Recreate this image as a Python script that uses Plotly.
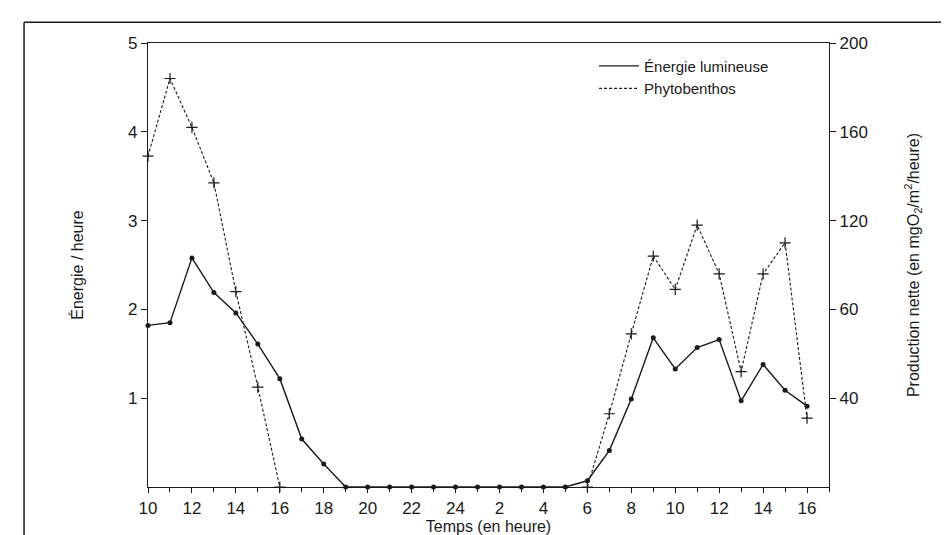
import plotly.graph_objects as go

# Hours of the day (from 10 h on day 1 to 16 h on day 2)
hours = [10, 11, 12, 13, 14, 15, 16, 17, 18, 19, 20, 21, 22, 23, 24,
         1, 2, 3, 4, 5, 6, 7, 8, 9, 10, 11, 12, 13, 14, 15, 16]

# Énergie lumineuse (énergie / heure, left axis)
energie = [1.82, 1.85, 2.58, 2.19, 1.96, 1.61, 1.22, 0.54, 0.26, 0, 0, 0, 0, 0, 0,
           0, 0, 0, 0, 0, 0.07, 0.41, 0.99, 1.68, 1.33, 1.57, 1.66, 0.97, 1.38, 1.09, 0.91]

# Phytobenthos (production nette, right axis)
phyto = [149, 184, 162, 137, 88, 45, 0, None, None, None, None, None, None, None, None,
         None, None, None, None, None, 0, 33, 69, 104, 89, 118, 96, 52, 96, 110, 31]

left_ticks = [1, 2, 3, 4, 5]
right_tickvals = [40, 80, 120, 160, 200]
right_ticktext = ["40", "60", "120", "160", "200"]

idx = list(range(len(hours)))
x_major = [i for i in idx if i % 2 == 0]
x_labels = [str(hours[i]) for i in x_major]

FONT = "Liberation Sans Narrow, Liberation Sans, Arial, sans-serif"
INK = "#1a1a1a"

fig = go.Figure()

fig.add_trace(go.Scatter(
    x=idx, y=energie, mode="lines+markers", name="Énergie lumineuse",
    line=dict(color=INK, width=1.4),
    marker=dict(symbol="circle", size=5, color=INK),
    cliponaxis=False, showlegend=False, yaxis="y"))

fig.add_trace(go.Scatter(
    x=idx, y=phyto, mode="lines+markers", name="Phytobenthos",
    line=dict(color=INK, width=1.1, dash="3px,2px"),
    marker=dict(symbol="cross-thin", size=8, line=dict(color=INK, width=1.2)),
    cliponaxis=False, showlegend=False, yaxis="y2", connectgaps=False))

# legend-only entries (lines without markers, as in the reference)
fig.add_trace(go.Scatter(x=[None], y=[None], mode="lines", name="Énergie lumineuse",
                         line=dict(color=INK, width=1.4)))
fig.add_trace(go.Scatter(x=[None], y=[None], mode="lines", name="Phytobenthos",
                         line=dict(color=INK, width=1.1, dash="3px,2px")))

fig.update_layout(
    width=949, height=535,
    margin=dict(l=140, r=128, t=35, b=48),
    paper_bgcolor="white", plot_bgcolor="white",
    font=dict(family=FONT, size=16, color=INK),
    legend=dict(x=0.655, y=0.985, xanchor="left", yanchor="top",
                bgcolor="rgba(0,0,0,0)", font=dict(family="Liberation Sans, Arial", size=15),
                tracegroupgap=0, itemwidth=40),
    xaxis=dict(
        range=[0, 31], tickmode="array", tickvals=x_major, ticktext=x_labels,
        ticks="outside", ticklen=5, tickcolor=INK, tickwidth=1,
        minor=dict(tickmode="linear", tick0=0, dtick=1, ticks="outside",
                   ticklen=4, tickcolor=INK, showgrid=False),
        showline=True, linecolor=INK, linewidth=1.3, mirror=True,
        showgrid=False, zeroline=False,
        tickfont=dict(family=FONT, size=17),
        title=dict(text="Temps (en heure)", standoff=2,
                   font=dict(family="Liberation Sans, Arial", size=16))),
    yaxis=dict(
        range=[0, 5], tickmode="array", tickvals=left_ticks,
        ticks="outside", ticklen=6, tickcolor=INK,
        showline=True, linecolor=INK, linewidth=1.3,
        showgrid=False, zeroline=False,
        tickfont=dict(family=FONT, size=17),
        title=dict(text="Énergie / heure", standoff=40,
                   font=dict(family="Liberation Sans, Arial", size=16))),
    yaxis2=dict(
        range=[0, 200], overlaying="y", side="right",
        tickmode="array", tickvals=right_tickvals, ticktext=right_ticktext,
        ticks="outside", ticklen=6, tickcolor=INK,
        showline=True, linecolor=INK, linewidth=1.3,
        showgrid=False, zeroline=False,
        tickfont=dict(family=FONT, size=17),
        title=dict(text="Production nette (en mgO<sub>2</sub>/m<sup>2</sup>/heure)", standoff=40,
                   font=dict(family="Liberation Sans, Arial", size=16))),
    shapes=[
        dict(type="line", xref="paper", yref="paper", x0=-0.182, x1=1.2, y0=1.0465, y1=1.0465,
             line=dict(color=INK, width=1.5)),
        dict(type="line", xref="paper", yref="paper", x0=-0.182, x1=-0.182, y0=1.0465, y1=-0.11,
             line=dict(color=INK, width=1.5)),
    ],
)

fig.write_html("out.html")
